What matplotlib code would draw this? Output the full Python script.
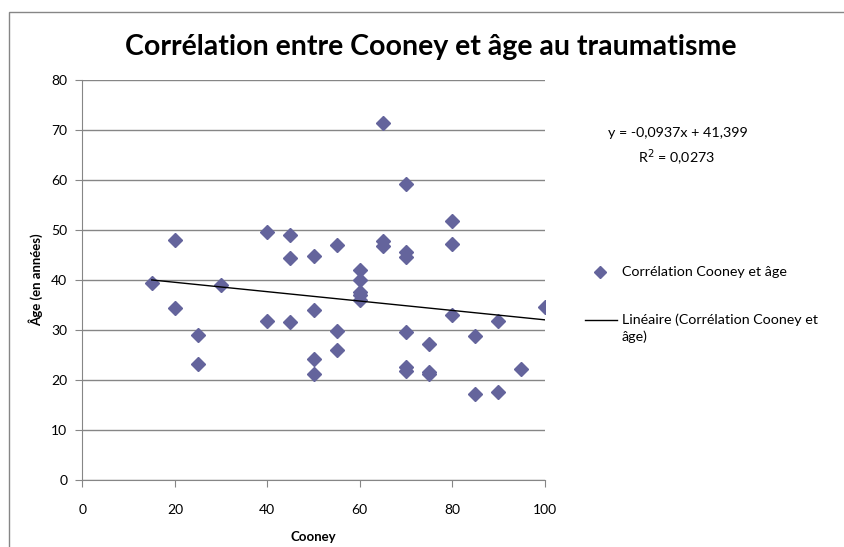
import numpy as np
import matplotlib.pyplot as plt
from matplotlib.patches import Rectangle
from matplotlib.lines import Line2D

plt.rcParams['font.family'] = ['Lato', 'DejaVu Sans']

# Cooney score and age at trauma
cooney = [15, 20, 20, 25, 25, 30, 40, 40, 45, 45, 45, 50, 50, 50, 50,
          55, 55, 55, 60, 60, 60, 60, 60, 65, 65, 65, 70, 70, 70, 70, 70, 70,
          75, 75, 75, 80, 80, 80, 85, 85, 90, 90, 95, 100]
age = [39.4, 48.0, 34.3, 29.0, 23.1, 38.9, 49.6, 31.8, 49.0, 44.3, 31.5,
       44.7, 33.9, 24.2, 21.1, 47.0, 29.8, 26.0, 41.9, 39.9, 37.5, 37.0, 35.9,
       71.4, 47.8, 46.7, 59.1, 45.5, 44.6, 29.5, 22.5, 21.8, 27.2, 21.6, 21.1,
       51.8, 47.2, 32.9, 28.7, 17.1, 31.8, 17.6, 22.1, 34.5]

# published trend line
slope = -0.0937
intercept = 41.399
r2 = 0.0273

x_ticks = [0, 20, 40, 60, 80, 100]
y_ticks = [0, 10, 20, 30, 40, 50, 60, 70, 80]

grey = '#868686'
point_color = '#64649C'


def fx(px):
    return px / 844


def fy(py):
    return 1 - py / 547


def fr(v):
    return f'{v}'.replace('.', ',')


fig = plt.figure(figsize=(8.44, 5.47), dpi=100)
ax = fig.add_axes([0.0977, 0.1225, 0.5475, 0.7315])

# chart frame
fig.patches.append(Rectangle((fx(9), -0.05), 1.2, fy(12) + 0.05,
                             transform=fig.transFigure, fill=False,
                             edgecolor=grey, lw=1.0))

ax.plot(cooney, age, linestyle='none', marker='D', markersize=7.4,
        color=point_color, zorder=3)

xt = np.array([min(cooney), max(cooney)])
ax.plot(xt, slope * xt + intercept, color='black', lw=1.0, zorder=4)

ax.set_xlim(0, 100)
ax.set_ylim(0, 80)
ax.set_xticks(x_ticks)
ax.set_yticks(y_ticks)
ax.yaxis.grid(True, color=grey, lw=1.0)
ax.set_axisbelow(True)
for s in ['top', 'right']:
    ax.spines[s].set_visible(False)
for s in ['left', 'bottom']:
    ax.spines[s].set_color(grey)
ax.tick_params(axis='both', direction='out', length=5, color=grey,
               labelsize=10)
ax.tick_params(axis='x', pad=12)
ax.tick_params(axis='y', pad=6)

ax.set_xlabel('Cooney', fontsize=9.5, fontweight='bold', labelpad=11)
ax.set_ylabel('Âge (en années)', fontsize=9.5, fontweight='bold', labelpad=6)

fig.suptitle('Corrélation entre Cooney et âge au traumatisme', fontsize=20.5,
             fontweight='bold', x=fx(431), y=fy(47), va='center')

fig.text(fx(678), fy(133), f'y = {fr(slope)}x + {fr(intercept)}',
         fontsize=10.3, ha='center', va='center')
fig.text(fx(677), fy(158), 'R$^2$ = ' + fr(r2),
         fontsize=10.3, ha='center', va='center')

# legend, laid out like the spreadsheet one
fig.add_artist(Line2D([fx(600)], [fy(272)], transform=fig.transFigure,
                      linestyle='none', marker='D', markersize=6.2,
                      color=point_color))
fig.text(fx(622), fy(272), 'Corrélation Cooney et âge', fontsize=10.3,
         ha='left', va='center')
fig.add_artist(Line2D([fx(585), fx(617)], [fy(320), fy(320)],
                      transform=fig.transFigure, color='black', lw=1.0))
fig.text(fx(622), fy(320), 'Linéaire (Corrélation Cooney et', fontsize=10.3,
         ha='left', va='center')
fig.text(fx(622), fy(337), 'âge)', fontsize=10.3, ha='left', va='center')

fig.savefig('out.png', dpi=100)
